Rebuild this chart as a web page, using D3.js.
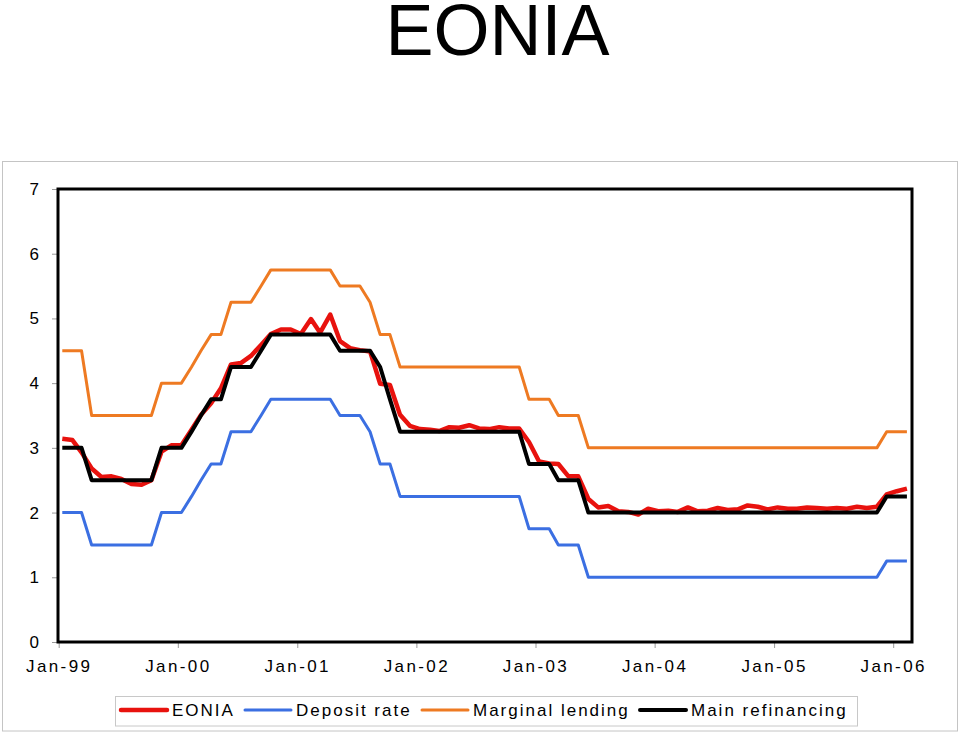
<!DOCTYPE html>
<html>
<head>
<meta charset="utf-8">
<script src="https://cdn.jsdelivr.net/npm/d3@7"></script>
<style>
  html, body { margin: 0; padding: 0; background: #fff; }
  svg { display: block; font-family: "Liberation Sans", Arial, sans-serif; }
</style>
</head>
<body>
<svg id="chart" width="960" height="732"></svg>
<script>
// ---------- DATA ----------
const months = [
  "1999-01","1999-02","1999-03","1999-04","1999-05","1999-06","1999-07","1999-08","1999-09","1999-10","1999-11","1999-12",
  "2000-01","2000-02","2000-03","2000-04","2000-05","2000-06","2000-07","2000-08","2000-09","2000-10","2000-11","2000-12",
  "2001-01","2001-02","2001-03","2001-04","2001-05","2001-06","2001-07","2001-08","2001-09","2001-10","2001-11","2001-12",
  "2002-01","2002-02","2002-03","2002-04","2002-05","2002-06","2002-07","2002-08","2002-09","2002-10","2002-11","2002-12",
  "2003-01","2003-02","2003-03","2003-04","2003-05","2003-06","2003-07","2003-08","2003-09","2003-10","2003-11","2003-12",
  "2004-01","2004-02","2004-03","2004-04","2004-05","2004-06","2004-07","2004-08","2004-09","2004-10","2004-11","2004-12",
  "2005-01","2005-02","2005-03","2005-04","2005-05","2005-06","2005-07","2005-08","2005-09","2005-10","2005-11","2005-12",
  "2006-01","2006-02"
];

const eonia = [
  3.14, 3.12, 2.93, 2.68, 2.55, 2.56, 2.52, 2.44, 2.43, 2.50, 2.94, 3.04,
  3.04, 3.28, 3.51, 3.69, 3.92, 4.29, 4.31, 4.42, 4.59, 4.76, 4.83, 4.83,
  4.76, 4.99, 4.78, 5.06, 4.65, 4.54, 4.51, 4.49, 3.99, 3.97, 3.51, 3.34,
  3.29, 3.28, 3.26, 3.32, 3.31, 3.35, 3.30, 3.29, 3.32, 3.30, 3.30, 3.09,
  2.79, 2.76, 2.75, 2.56, 2.56, 2.21, 2.08, 2.10, 2.02, 2.01, 1.97, 2.06,
  2.02, 2.03, 2.01, 2.08, 2.02, 2.03, 2.07, 2.04, 2.05, 2.11, 2.09, 2.05,
  2.08, 2.06, 2.06, 2.08, 2.07, 2.06, 2.07, 2.06, 2.09, 2.07, 2.09, 2.28,
  2.33, 2.37
];

const depositRate = [
  2, 2, 2, 1.5, 1.5, 1.5, 1.5, 1.5, 1.5, 1.5, 2, 2,
  2, 2.25, 2.5, 2.75, 2.75, 3.25, 3.25, 3.25, 3.5, 3.75, 3.75, 3.75,
  3.75, 3.75, 3.75, 3.75, 3.5, 3.5, 3.5, 3.25, 2.75, 2.75, 2.25, 2.25,
  2.25, 2.25, 2.25, 2.25, 2.25, 2.25, 2.25, 2.25, 2.25, 2.25, 2.25, 1.75,
  1.75, 1.75, 1.5, 1.5, 1.5, 1, 1, 1, 1, 1, 1, 1,
  1, 1, 1, 1, 1, 1, 1, 1, 1, 1, 1, 1,
  1, 1, 1, 1, 1, 1, 1, 1, 1, 1, 1, 1.25,
  1.25, 1.25
];

const marginalLending = [
  4.5, 4.5, 4.5, 3.5, 3.5, 3.5, 3.5, 3.5, 3.5, 3.5, 4, 4,
  4, 4.25, 4.5, 4.75, 4.75, 5.25, 5.25, 5.25, 5.5, 5.75, 5.75, 5.75,
  5.75, 5.75, 5.75, 5.75, 5.5, 5.5, 5.5, 5.25, 4.75, 4.75, 4.25, 4.25,
  4.25, 4.25, 4.25, 4.25, 4.25, 4.25, 4.25, 4.25, 4.25, 4.25, 4.25, 3.75,
  3.75, 3.75, 3.5, 3.5, 3.5, 3, 3, 3, 3, 3, 3, 3,
  3, 3, 3, 3, 3, 3, 3, 3, 3, 3, 3, 3,
  3, 3, 3, 3, 3, 3, 3, 3, 3, 3, 3, 3.25,
  3.25, 3.25
];

const mainRefinancing = [
  3, 3, 3, 2.5, 2.5, 2.5, 2.5, 2.5, 2.5, 2.5, 3, 3,
  3, 3.25, 3.5, 3.75, 3.75, 4.25, 4.25, 4.25, 4.5, 4.75, 4.75, 4.75,
  4.75, 4.75, 4.75, 4.75, 4.5, 4.5, 4.5, 4.5, 4.25, 3.75, 3.25, 3.25,
  3.25, 3.25, 3.25, 3.25, 3.25, 3.25, 3.25, 3.25, 3.25, 3.25, 3.25, 2.75,
  2.75, 2.75, 2.5, 2.5, 2.5, 2, 2, 2, 2, 2, 2, 2,
  2, 2, 2, 2, 2, 2, 2, 2, 2, 2, 2, 2,
  2, 2, 2, 2, 2, 2, 2, 2, 2, 2, 2, 2.25,
  2.25, 2.25
];

const seriesNames = ["EONIA", "Deposit rate", "Marginal lending", "Main refinancing"];
const seriesValues = [eonia, depositRate, marginalLending, mainRefinancing];
const seriesColors = ["#e8120e", "#3b6fe2", "#ee7a22", "#000000"];
const seriesWidths = [4.5, 3, 3, 4];

const yTicks = [0, 1, 2, 3, 4, 5, 6, 7];
const xTickLabels = ["Jan-99", "Jan-00", "Jan-01", "Jan-02", "Jan-03", "Jan-04", "Jan-05", "Jan-06"];
const titleText = "EONIA";

// ---------- LAYOUT ----------
const svg = d3.select("#chart");
const plot = { left: 58, right: 912, top: 189, bottom: 642 };

const parseMonth = d3.timeParse("%Y-%m");
const monthDates = months.map(m => d3.timeDay.offset(parseMonth(m), 11));
const tickDates = xTickLabels.map(s => d3.timeParse("%b-%y")(s));

const x = d3.scaleTime()
  .domain([new Date(1999, 0, 1), new Date(2006, 0, 1)])
  .range([58.7, 893.2]);
const y = d3.scaleLinear().domain([0, 7]).range([plot.bottom, plot.top]);

// outer chart-area border
svg.append("rect")
  .attr("x", 2.5).attr("y", 161.5)
  .attr("width", 955).attr("height", 569.5)
  .attr("fill", "none").attr("stroke", "#c4c4c4").attr("stroke-width", 1);

// title
svg.append("text")
  .attr("x", 497.5).attr("y", 55)
  .attr("text-anchor", "middle")
  .attr("font-size", 72)
  .attr("fill", "#000")
  .text(titleText);

// y axis
const yAxis = d3.axisLeft(y).tickValues(yTicks).tickFormat(d3.format("d")).tickSize(6).tickPadding(13);
const gy = svg.append("g").attr("transform", `translate(${plot.left},0)`).call(yAxis);
gy.select(".domain").remove();
gy.selectAll(".tick line").attr("stroke", "#999");
gy.selectAll(".tick text").attr("font-size", 17).attr("fill", "#000")
  .attr("font-family", "Liberation Sans, Arial, sans-serif");

// x axis
const xAxis = d3.axisBottom(x).tickValues(tickDates).tickFormat(d3.timeFormat("%b-%y")).tickSize(6).tickPadding(12);
const gx = svg.append("g").attr("transform", `translate(0,${plot.bottom})`).call(xAxis);
gx.select(".domain").remove();
gx.selectAll(".tick line").attr("stroke", "#999");
gx.selectAll(".tick text").attr("font-size", 17).attr("fill", "#000")
  .attr("letter-spacing", "2.4px")
  .attr("font-family", "Liberation Sans, Arial, sans-serif");

// lines
const line = d3.line()
  .x((d, i) => x(monthDates[i]))
  .y(d => y(d));

const gLines = svg.append("g");
seriesValues.forEach((vals, k) => {
  gLines.append("path")
    .datum(vals)
    .attr("fill", "none")
    .attr("stroke", seriesColors[k])
    .attr("stroke-width", seriesWidths[k])
    .attr("stroke-linejoin", "round")
    .attr("d", line);
});

// plot border
svg.append("rect")
  .attr("x", plot.left).attr("y", plot.top)
  .attr("width", plot.right - plot.left).attr("height", plot.bottom - plot.top)
  .attr("fill", "none").attr("stroke", "#000").attr("stroke-width", 3);

// legend
const legend = svg.append("g");
legend.append("rect")
  .attr("x", 115.5).attr("y", 696.5).attr("width", 742).attr("height", 29.5)
  .attr("fill", "#fff").attr("stroke", "#c8c8c8").attr("stroke-width", 1);

const legendX = [121, 245, 422, 640];
seriesNames.forEach((name, k) => {
  const lx = legendX[k];
  legend.append("line")
    .attr("x1", lx).attr("x2", lx + 46)
    .attr("y1", 710).attr("y2", 710)
    .attr("stroke", seriesColors[k])
    .attr("stroke-width", seriesWidths[k])
    .attr("stroke-linecap", "round");
  legend.append("text")
    .attr("x", lx + 51).attr("y", 715.5)
    .attr("font-size", 17)
    .attr("letter-spacing", "2px")
    .attr("fill", "#000")
    .text(name);
});
</script>
</body>
</html>
